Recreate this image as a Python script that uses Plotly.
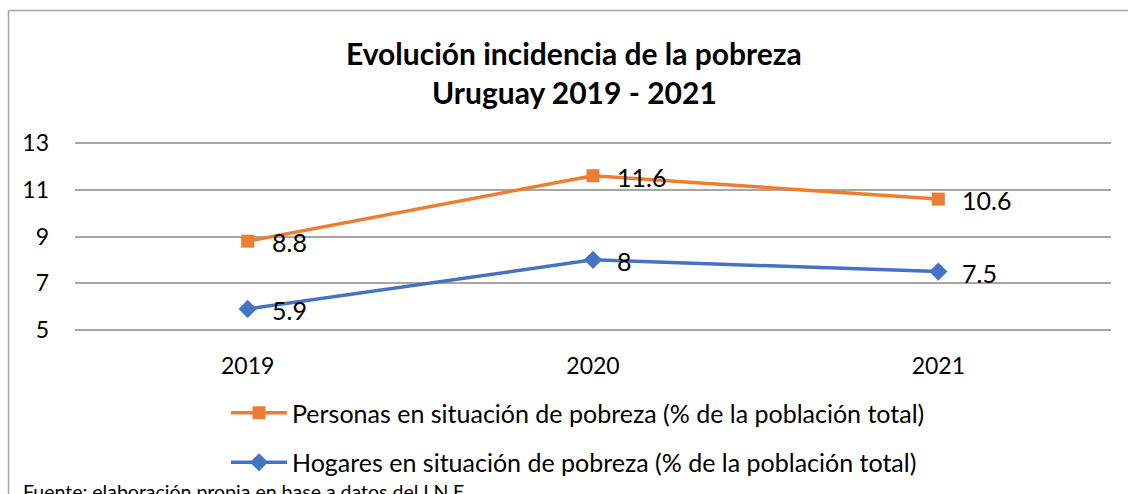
import plotly.graph_objects as go

years = ["2019", "2020", "2021"]
personas = [8.8, 11.6, 10.6]
hogares = [5.9, 8, 7.5]
y_ticks = [5, 7, 9, 11, 13]
name_personas = "Personas en situación de pobreza (% de la población total)"
name_hogares = "Hogares en situación de pobreza (% de la población total)"
title_lines = ["Evolución incidencia de la pobreza", "Uruguay 2019 - 2021"]
source = "Fuente: elaboración propia en base a datos del I.N.E."

FONT = "Lato, 'Open Sans', sans-serif"
ORANGE = "#ED7D31"
BLUE = "#4472C4"

W, H = 1128, 494
L, R, T, B = 75, 17, 141, 162
pw, ph = W - L - R, H - T - B
# y scale: 13 at px 143, 5 at px 330 -> pad range by 2px each side
pad = 2 / (187 / 8)

def px_x(p):
    return (p - L) / pw

def px_y(p):
    return (H - B - p) / ph

fig = go.Figure()
fig.add_trace(go.Scatter(
    x=years, y=personas, name=name_personas, mode="lines+markers",
    line=dict(color=ORANGE, width=3.5),
    marker=dict(symbol="square", size=13, color=ORANGE),
    legendgroup="a",
))
fig.add_trace(go.Scatter(
    x=years, y=hogares, name=name_hogares, mode="lines+markers",
    line=dict(color=BLUE, width=3.5),
    marker=dict(symbol="diamond", size=14, color=BLUE),
    legendgroup="b",
))

annotations = []
for ys in (personas, hogares):
    for i, yv in enumerate(ys):
        annotations.append(dict(
            x=i, y=yv, xref="x", yref="y", text=f"{yv:g}", showarrow=False,
            xanchor="left", yanchor="middle", xshift=22, yshift=-1,
            font=dict(family=FONT, size=25, color="#000000"),
        ))

annotations.append(dict(
    x=px_x(574), y=px_y(53), xref="paper", yref="paper", text=f"<b>{title_lines[0]}</b>",
    showarrow=False, xanchor="center", yanchor="middle",
    font=dict(family=FONT, size=30, color="#000000"),
))
annotations.append(dict(
    x=px_x(574), y=px_y(92), xref="paper", yref="paper", text=f"<b>{title_lines[1]}</b>",
    showarrow=False, xanchor="center", yanchor="middle",
    font=dict(family=FONT, size=30, color="#000000"),
))
annotations.append(dict(
    x=px_x(21), y=px_y(491), xref="paper", yref="paper", text=source,
    showarrow=False, xanchor="left", yanchor="middle",
    font=dict(family=FONT, size=19.5, color="#000000"),
))

shapes = [
    dict(type="line", xref="paper", yref="paper", x0=px_x(8.5), x1=px_x(1130), y0=px_y(10.5), y1=px_y(10.5),
         line=dict(color="#A6A6A6", width=1.5)),
    dict(type="line", xref="paper", yref="paper", x0=px_x(8.5), x1=px_x(8.5), y0=px_y(10.5), y1=px_y(500),
         line=dict(color="#A6A6A6", width=1.5)),
]

fig.update_layout(
    width=W, height=H,
    margin=dict(l=L, r=R, t=T, b=B, autoexpand=False),
    paper_bgcolor="white", plot_bgcolor="white",
    font=dict(family=FONT, color="#000000"),
    showlegend=True,
    legend=dict(
        x=px_x(226), y=px_y(390), xanchor="left", yanchor="top",
        font=dict(family=FONT, size=25, color="#000000"),
        tracegroupgap=14, itemwidth=56, bgcolor="rgba(0,0,0,0)",
    ),
    annotations=annotations,
    shapes=shapes,
)
fig.update_xaxes(
    type="category", range=[-0.5, 2.5], showgrid=False, zeroline=False, showline=False, ticks="",
    tickfont=dict(family=FONT, size=23, color="#000000"), ticklabelstandoff=18,
    automargin=False,
)
fig.update_yaxes(
    range=[5 - pad, 13 + pad], tickvals=y_ticks, showgrid=True, gridcolor="#A6A6A6", gridwidth=1.5,
    zeroline=False, showline=False, ticks="",
    tickfont=dict(family=FONT, size=23, color="#000000"), ticklabelstandoff=25,
    automargin=False,
)

fig.write_html("out.html", config={"displayModeBar": False},
               post_script="document.body.style.margin='0px';")
